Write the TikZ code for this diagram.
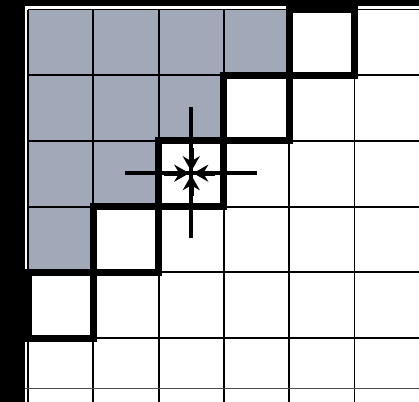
\documentclass[tikz,border=0pt]{standalone}
\usetikzlibrary{arrows.meta}
\definecolor{cellgray}{RGB}{161,169,184}
\begin{document}
\begin{tikzpicture}[x=1bp,y=-1bp,
  gridline/.style={line width=1.8bp,black},
  thinline/.style={line width=0.8bp,black!70},
  frontcell/.style={line width=7bp,black,line join=miter},
  crossline/.style={line width=4bp,black},
  inarrow/.style={line width=5bp,black,-{Stealth[length=15bp,width=17bp,inset=5bp]}},
  frame/.style={fill=black}]
\useasboundingbox (0,0) rectangle (419,402);
\fill[white] (0,0) rectangle (419,402);
% shaded cells
\foreach \r in {0,...,3}{
  \pgfmathtruncatemacro\m{3-\r}
  \foreach \c in {0,...,\m}
    \fill[cellgray] (28+\c*65.3,9.5+\r*65.7) rectangle ++(65.3,65.7);
}
% grid
\foreach \i in {0,...,5}
  \draw[gridline] (28+\i*65.3,9.5) -- (28+\i*65.3,402);
\foreach \j in {0,...,5}
  \draw[gridline] (28,9.5+\j*65.7) -- (419,9.5+\j*65.7);
\draw[thinline] (25,388) -- (419,388);
% front cells
\foreach \r in {0,...,4}
  \draw[frontcell] (28+4*65.3-\r*65.3,9.5+\r*65.7) rectangle ++(65.3,65.7);
% crosshair
\coordinate (c) at (191.25,173.2);
\coordinate (l) at (125,173.2);
\coordinate (r) at (257,173.2);
\coordinate (t) at (191.25,107);
\coordinate (b) at (191.25,238);
\draw[crossline] (l) -- (r);
\draw[crossline] (t) -- (b);
\draw[inarrow] ([xshift=-27bp]c) -- ([xshift=-2bp]c);
\draw[inarrow] ([xshift=24bp]c) -- ([xshift=2bp]c);
\draw[inarrow] ([yshift=25bp]c) -- ([yshift=2bp]c);
\draw[inarrow] ([yshift=-23bp]c) -- ([yshift=-2bp]c);
% black frame
\fill[frame] (0,0) rectangle (25,402);
\fill[frame] (0,0) rectangle (419,6);
\end{tikzpicture}
\end{document}
